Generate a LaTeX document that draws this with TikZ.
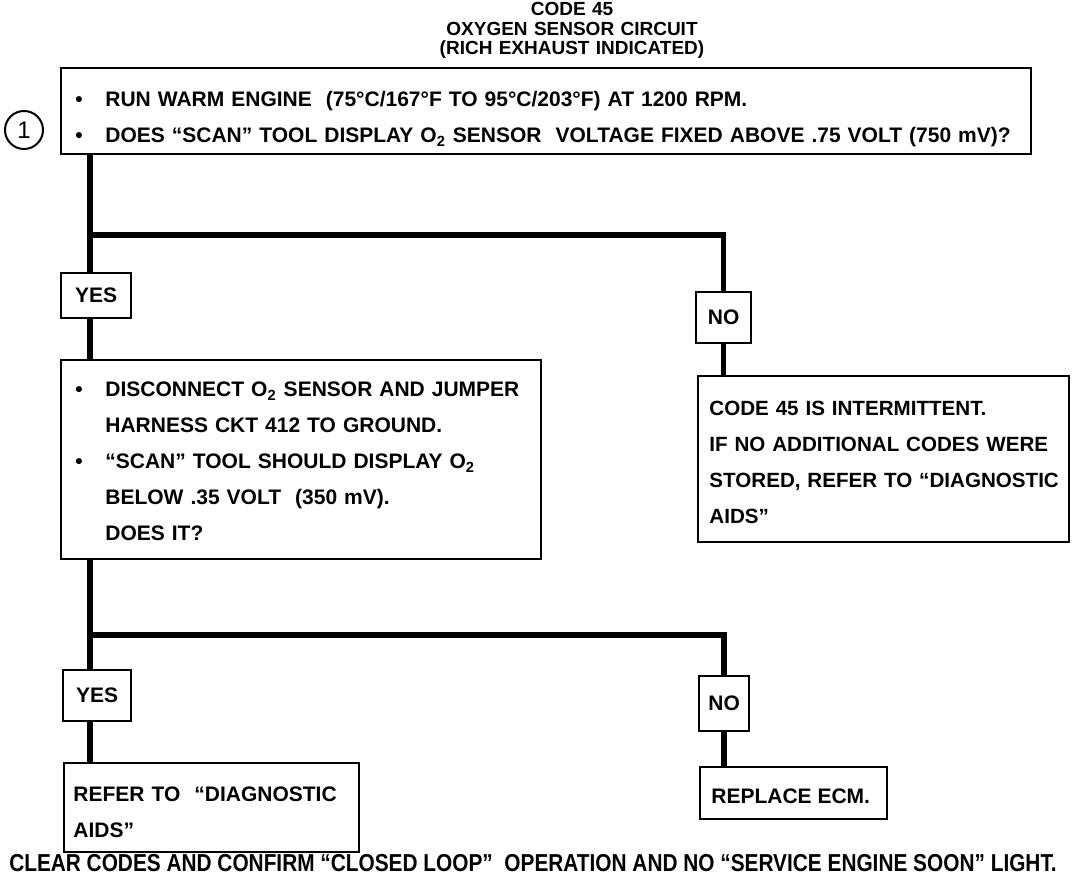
\documentclass[tikz,border=0pt]{standalone}
\usepackage{fontspec}
\setmainfont{Liberation Sans}
\newfontfamily\narrowfont{Liberation Sans}[FakeStretch=0.85]
\newcommand{\bul}{\makebox[15pt][l]{\textbullet}}
\newcommand{\ind}{\hspace*{15pt}}
\begin{document}
\begin{tikzpicture}[
    x=0.5pt,
    y=-0.5pt,
    box/.style={draw=black, line width=1.1pt, inner sep=0pt, anchor=north west},
    tag/.style={draw=black, line width=1.1pt, inner sep=0pt, anchor=north west,
      font=\bfseries\fontsize{10.5}{12}\selectfont},
    txt/.style={anchor=base west, inner sep=0pt, align=left,
      font=\bfseries\fontsize{10.5}{18}\selectfont},
    wire/.style={line width=2.8pt}
  ]
    \useasboundingbox (0,0) rectangle (1088,876);
    \node[anchor=base, inner sep=0pt, text width=160pt, align=center,
      font=\bfseries\fontsize{9.5}{9.75}\selectfont] (title) at (572,16)
      {CODE 45\\OXYGEN SENSOR CIRCUIT\\(RICH EXHAUST INDICATED)};
    \node[circle, draw, line width=1pt, minimum size=19pt, inner sep=0pt,
      font=\fontsize{12}{14}\selectfont] (stepone) at (24,130) {1};
    \node[box, minimum width=485pt, minimum height=43pt] (box1) at (60,67) {};
    \node[txt, text width=475pt] (box1text) at (75,107)
      {\bul RUN WARM ENGINE\ \ (75°C/167°F TO 95°C/203°F) AT 1200 RPM.\\
       \bul DOES “SCAN” TOOL DISPLAY O\textsubscript{2} SENSOR\ \ VOLTAGE FIXED ABOVE .75 VOLT (750 mV)?};
    \node[tag, minimum width=35pt, minimum height=22.5pt] (yes1) at (60,272) {YES};
    \node[tag, minimum width=27.5pt, minimum height=25.5pt] (no1) at (695,291) {NO};
    \node[box, minimum width=240pt, minimum height=99.5pt] (box2) at (60,359) {};
    \node[txt, text width=230pt] (box2text) at (75,397)
      {\bul DISCONNECT O\textsubscript{2} SENSOR AND JUMPER\\
       \ind HARNESS CKT 412 TO GROUND.\\
       \bul “SCAN” TOOL SHOULD DISPLAY O\textsubscript{2}\\
       \ind BELOW .35 VOLT\ \ (350 mV).\\
       \ind DOES IT?};
    \node[box, minimum width=185.5pt, minimum height=83pt] (box3) at (697,375) {};
    \node[txt, text width=200pt, font=\bfseries\fontsize{10.3}{18}\selectfont] (box3text) at (709,416)
      {CODE 45 IS INTERMITTENT.\\
       IF NO ADDITIONAL CODES WERE\\
       STORED, REFER TO “DIAGNOSTIC\\
       AIDS”};
    \node[tag, minimum width=34pt, minimum height=25.5pt] (yes2) at (62,669) {YES};
    \node[tag, minimum width=25pt, minimum height=27.5pt] (no2) at (698,675) {NO};
    \node[box, minimum width=147.5pt, minimum height=44.5pt] (box4) at (63,762) {};
    \node[txt, text width=140pt] (box4text) at (73,802)
      {REFER TO\ \ “DIAGNOSTIC\\
       AIDS”};
    \node[box, minimum width=93.5pt, minimum height=26pt] (box5) at (699,766) {};
    \node[txt] (box5text) at (711,804) {REPLACE ECM.};
    \node[anchor=base, inner sep=0pt,
      font=\narrowfont\bfseries\fontsize{12.25}{14}\selectfont] (note) at (533,871)
      {CLEAR CODES AND CONFIRM “CLOSED LOOP”\ \ OPERATION AND NO “SERVICE ENGINE SOON” LIGHT.};
    \coordinate (j1) at (90,235);
    \coordinate (j2) at (90,635);
    \draw[wire] (box1.south -| j1) -- (yes1.north -| j1);
    \draw[wire] (j1) -| (no1.north);
    \draw[wire] (yes1.south -| j1) -- (box2.north -| j1);
    \draw[wire] (no1.south) -- (no1.south |- box3.north);
    \draw[wire] (box2.south -| j2) -- (yes2.north -| j2);
    \draw[wire] (j2) -| (no2.north);
    \draw[wire] (yes2.south -| j2) -- (box4.north -| j2);
    \draw[wire] (no2.south) -- (no2.south |- box5.north);
  \end{tikzpicture}
\end{document}
